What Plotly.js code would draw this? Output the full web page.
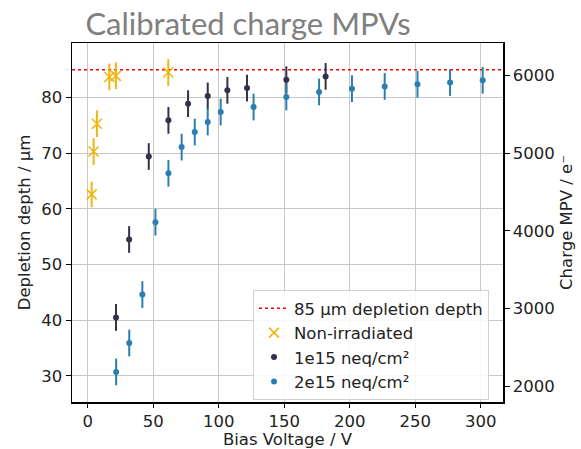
<!DOCTYPE html>
<html>
<head>
<meta charset="utf-8">
<script src="https://cdn.plot.ly/plotly-3.0.1.min.js"></script>
<style>html,body{margin:0;padding:0;background:#fff}#chart{width:581px;height:449px}</style>
</head>
<body>
<div id="chart"></div>
<script>
// Non-irradiated
const nonIrrV = [3, 4.5, 7, 16.5, 21.5, 61.5];
const nonIrrDepth = [62.6, 70.3, 75.3, 83.7, 83.9, 84.5];
const nonIrrErr = [2.3, 2.4, 2.4, 2.4, 2.4, 2.4];
// 1e15 neq/cm2
const v1e15 = [21.6, 31.6, 46.6, 61.6, 76.6, 91.6, 106.6, 121.6, 151.6, 181.6];
const depth1e15 = [40.5, 54.5, 69.4, 75.9, 78.9, 80.3, 81.3, 81.7, 83.2, 83.8];
const err1e15 = [2.4, 2.4, 2.4, 2.4, 2.4, 2.4, 2.4, 2.4, 2.4, 2.4];
// 2e15 neq/cm2
const v2e15 = [21.7, 31.7, 41.7, 51.7, 61.6, 71.7, 81.7, 91.6, 101.5, 126.6, 151.6, 176.6, 201.7, 226.7, 251.7, 276.6, 301.5];
const depth2e15 = [30.7, 35.9, 44.6, 57.6, 66.4, 71.1, 73.8, 75.6, 77.4, 78.3, 80.1, 81.0, 81.6, 82.0, 82.4, 82.7, 83.1];
const err2e15 = [2.4, 2.4, 2.4, 2.4, 2.4, 2.4, 2.4, 2.4, 2.4, 2.4, 2.4, 2.4, 2.4, 2.4, 2.4, 2.4, 2.4];
// reference line
const refDepth = 85;
const xRange = [-12, 317];
const yRange = [25.3, 89.8];
const y2Range = [1798, 6418];
const xTicks = [0, 50, 100, 150, 200, 250, 300];
const yTicks = [30, 40, 50, 60, 70, 80];
const y2Ticks = [2000, 3000, 4000, 5000, 6000];

const cYellow = '#f0b511', cDark = '#33314b', cBlue = '#2a7fae';
const F = 'DejaVu Sans, sans-serif';
const FS = 16.5;

const traces = [
  {x: xRange, y: [refDepth, refDepth], mode: 'lines', name: '85 µm depletion depth',
   line: {color: '#ff0000', dash: 'dot', width: 1.6}, hoverinfo: 'skip'},
  {x: nonIrrV, y: nonIrrDepth, mode: 'markers', name: 'Non-irradiated',
   marker: {symbol: 'x-thin-open', size: 10, line: {color: cYellow, width: 1.6}, color: cYellow},
   error_y: {type: 'data', array: nonIrrErr, visible: true, color: cYellow, thickness: 2, width: 0}},
  {x: v1e15, y: depth1e15, mode: 'markers', name: '1e15 neq/cm²',
   marker: {symbol: 'circle', size: 6, color: cDark},
   error_y: {type: 'data', array: err1e15, visible: true, color: cDark, thickness: 2, width: 0}},
  {x: v2e15, y: depth2e15, mode: 'markers', name: '2e15 neq/cm²',
   marker: {symbol: 'circle', size: 6, color: cBlue},
   error_y: {type: 'data', array: err2e15, visible: true, color: cBlue, thickness: 2, width: 0}},
  {x: [], y: [], yaxis: 'y2', showlegend: false, hoverinfo: 'skip'}
];

const layout = {
  width: 581, height: 449,
  margin: {l: 72, r: 78, t: 43, b: 47},
  paper_bgcolor: '#fff', plot_bgcolor: '#fff',
  font: {family: F, size: FS, color: '#222'},
  showlegend: true,
  title: {text: 'Calibrated charge MPVs', font: {family: 'Lato, sans-serif', size: 31, color: '#808080'},
    xref: 'container', x: 248/581, xanchor: 'center', yref: 'container', y: 1 - 24/449, yanchor: 'middle'},
  xaxis: {range: xRange, tickvals: xTicks, ticks: 'outside', ticklen: 4, tickcolor: '#000',
    showline: true, linecolor: '#000', linewidth: 1.5, mirror: true, zeroline: false,
    showgrid: true, gridcolor: '#c8c8c8', gridwidth: 1.2,
    tickfont: {size: FS, family: F, color: '#222'},
    title: {text: 'Bias Voltage / V', font: {size: FS, family: F, color: '#222'}, standoff: 3}},
  yaxis: {range: yRange, tickvals: yTicks, ticks: 'outside', ticklen: 5, tickcolor: '#000',
    showline: true, linecolor: '#000', linewidth: 1.5, mirror: true, zeroline: false,
    showgrid: true, gridcolor: '#c8c8c8', gridwidth: 1.2,
    tickfont: {size: FS, family: F, color: '#222'},
    title: {text: 'Depletion depth / µm', font: {size: FS, family: F, color: '#222'}, standoff: 6}},
  yaxis2: {range: y2Range, tickvals: y2Ticks, overlaying: 'y', side: 'right', anchor: 'x',
    ticks: 'outside', ticklen: 5, tickcolor: '#000', showgrid: false, zeroline: false,
    showline: true, linecolor: '#000', linewidth: 1.5,
    tickfont: {size: FS, family: F, color: '#222'},
    title: {text: 'Charge MPV / e⁻', font: {size: FS, family: F, color: '#222'}, standoff: 6}},
  legend: {x: 0.42, y: 0.312, xanchor: 'left', yanchor: 'top', bgcolor: 'rgba(255,255,255,0.85)',
    bordercolor: '#d0d0d0', borderwidth: 1, font: {size: FS, family: F, color: '#222'},
    tracegroupgap: 0}
};

Plotly.newPlot('chart', traces, layout, {staticPlot: true, displayModeBar: false});
</script>
</body>
</html>
